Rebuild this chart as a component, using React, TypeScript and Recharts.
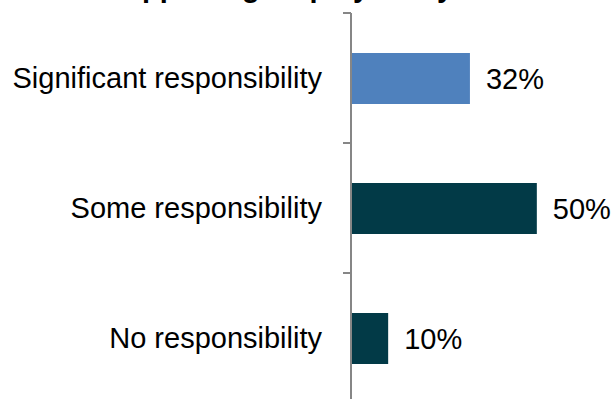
import React from "react";
import { BarChart, Bar, XAxis, YAxis, LabelList, Cell } from "recharts";

const categories = ["Significant responsibility", "Some responsibility", "No responsibility"];
const values = [32, 50, 10];
const barColors = ["#4f81bd", "#023a47", "#023a47"];
const titleText = "Supporting employability";

const data = categories.map((name, i) => ({ name, value: values[i] }));

const FONT = "'Liberation Sans', Arial, sans-serif";
const AXIS_COLOR = "#868686";
const TICK_MARGIN = 29;
const TICK_LEN = 8;

function CategoryTick(props: any) {
  const { x, y, payload, index, visibleTicksCount } = props;
  const axisX = x + TICK_MARGIN;
  const half = payload && typeof payload.offset === "number" ? payload.offset : 0;
  const c = payload.coordinate;
  const isLast = index === visibleTicksCount - 1;
  return (
    <g>
      <text
        x={x}
        y={y}
        dy="0.355em"
        textAnchor="end"
        fill="#000"
        fontSize={29}
        fontFamily={FONT}
      >
        {payload.value}
      </text>
      <line x1={axisX - TICK_LEN} x2={axisX} y1={c - half} y2={c - half} stroke={AXIS_COLOR} strokeWidth={2} />
      {isLast && (
        <line x1={axisX - TICK_LEN} x2={axisX} y1={c + half} y2={c + half} stroke={AXIS_COLOR} strokeWidth={2} />
      )}
    </g>
  );
}

export default function App() {
  return (
    <div style={{ position: "absolute", left: 0, top: 0, width: 616, height: 399, overflow: "hidden", background: "#fff" }}>
      <svg width={616} height={399} style={{ position: "absolute", left: 0, top: 0 }}>
        <text x={105} y={-3} fontFamily={FONT} fontWeight="bold" fontSize={29} fill="#000">
          {titleText}
        </text>
      </svg>
      <div style={{ position: "absolute", left: 0, top: 0 }}>
        <BarChart
          width={616}
          height={403}
          data={data}
          layout="vertical"
          margin={{ top: 13, right: 42, bottom: 0, left: 0 }}
        >
          <XAxis type="number" hide domain={[0, 60]} />
          <YAxis
            type="category"
            dataKey="name"
            width={351}
            tickLine={false}
            tickSize={0}
            tickMargin={TICK_MARGIN}
            axisLine={{ stroke: AXIS_COLOR, strokeWidth: 2 }}
            tick={<CategoryTick />}
            interval={0}
          />
          <Bar dataKey="value" barSize={51} isAnimationActive={false}>
            {data.map((d, i) => (
              <Cell key={d.name} fill={barColors[i]} />
            ))}
            <LabelList
              dataKey="value"
              position="right"
              offset={16}
              formatter={(v: number) => `${v}%`}
              style={{ fill: "#000", fontSize: 29, fontFamily: FONT }}
            />
          </Bar>
        </BarChart>
      </div>
    </div>
  );
}
